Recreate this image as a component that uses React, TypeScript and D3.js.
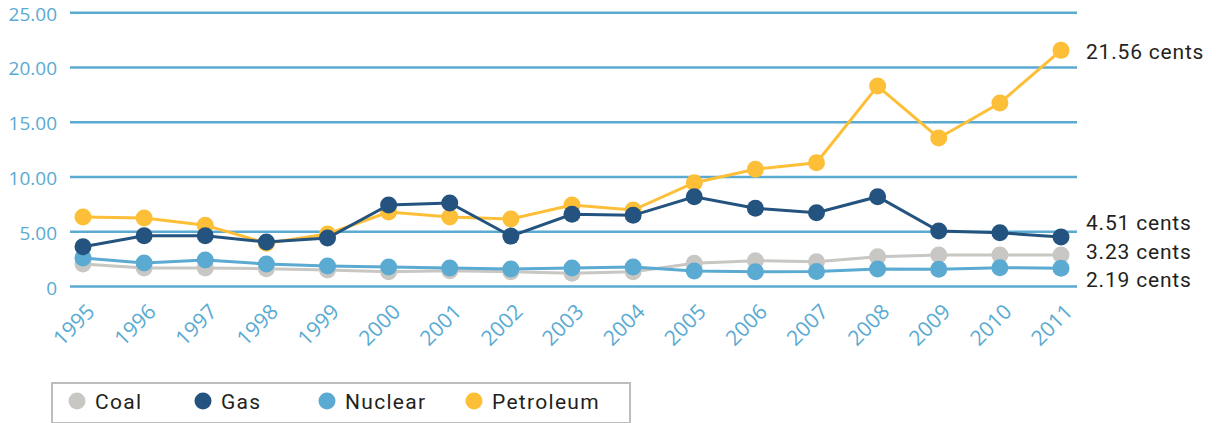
import { useEffect, useRef } from 'react';
import * as d3 from 'd3';

const years = ['1995', '1996', '1997', '1998', '1999', '2000', '2001', '2002', '2003', '2004', '2005', '2006', '2007', '2008', '2009', '2010', '2011'];
const coal = [2.05, 1.69, 1.69, 1.63, 1.5, 1.35, 1.44, 1.35, 1.2, 1.35, 2.12, 2.36, 2.27, 2.72, 2.88, 2.88, 2.88];
const gas = [3.63, 4.63, 4.63, 4.06, 4.43, 7.44, 7.63, 4.6, 6.6, 6.5, 8.2, 7.14, 6.74, 8.2, 5.07, 4.9, 4.51];
const nuclear = [2.6, 2.15, 2.42, 2.05, 1.87, 1.78, 1.69, 1.6, 1.69, 1.78, 1.42, 1.35, 1.37, 1.6, 1.57, 1.72, 1.66];
const petroleum = [6.35, 6.26, 5.6, 3.95, 4.8, 6.8, 6.35, 6.16, 7.44, 6.98, 9.48, 10.7, 11.3, 18.3, 13.56, 16.76, 21.56];
const yTicks = [0, 5, 10, 15, 20, 25];
const endLabels = ['21.56 cents', '4.51 cents', '3.23 cents', '2.19 cents'];
const seriesNames = ['Coal', 'Gas', 'Nuclear', 'Petroleum'];

const colors: Record<string, string> = {
    Coal: '#c8c7c3',
    Gas: '#23537e',
    Nuclear: '#5aaad2',
    Petroleum: '#fdbf37',
};

function App() {
    const ref = useRef<SVGSVGElement>(null);

    useEffect(() => {
        const svg = d3.select(ref.current);
        svg.selectAll('*').remove();

        const x = d3.scalePoint().domain(years).range([83, 1061]);
        const y = d3.scaleLinear().domain([0, 25]).range([286.5, 12.7]);

        // gridlines
        svg.append('g')
            .selectAll('line')
            .data(yTicks)
            .join('line')
            .attr('x1', 70)
            .attr('x2', 1077)
            .attr('y1', d => y(d))
            .attr('y2', d => y(d))
            .attr('stroke', '#5aaad2')
            .attr('stroke-width', 2.5);

        svg.append('g')
            .selectAll('text')
            .data(yTicks)
            .join('text')
            .attr('x', 57)
            .attr('y', d => y(d) + 1)
            .attr('text-anchor', 'end')
            .attr('dominant-baseline', 'central')
            .attr('font-family', 'Open Sans')
            .attr('font-size', 19)
            .attr('fill', '#5aaad2')
            .text(d => (d === 0 ? '0' : d.toFixed(2)));

        // x labels, rotated
        svg.append('g')
            .selectAll('text')
            .data(years)
            .join('text')
            .attr('transform', d => `translate(${(x(d) as number) + 13},313) rotate(-45)`)
            .attr('text-anchor', 'end')
            .attr('font-family', 'Open Sans')
            .attr('font-size', 21)
            .attr('fill', '#5aaad2')
            .text(d => d);

        const series = [
            { name: 'Coal', values: coal },
            { name: 'Nuclear', values: nuclear },
            { name: 'Petroleum', values: petroleum },
            { name: 'Gas', values: gas },
        ];

        const line = d3.line<number>()
            .x((_, i) => x(years[i]) as number)
            .y(d => y(d));

        series.forEach(s => {
            const g = svg.append('g');
            g.append('path')
                .datum(s.values)
                .attr('d', line)
                .attr('fill', 'none')
                .attr('stroke', colors[s.name])
                .attr('stroke-width', 3);
            g.selectAll('circle')
                .data(s.values)
                .join('circle')
                .attr('cx', (_, i) => x(years[i]) as number)
                .attr('cy', d => y(d))
                .attr('r', 8.5)
                .attr('fill', colors[s.name]);
        });

        // end annotations
        const labelY = [59, 230, 259, 287];
        svg.append('g')
            .selectAll('text')
            .data(endLabels)
            .join('text')
            .attr('x', 1086)
            .attr('y', (_, i) => labelY[i])
            .attr('font-family', 'Roboto')
            .attr('font-size', 21)
            .attr('letter-spacing', 0.8)
            .attr('fill', '#231f20')
            .text(d => d);

        // legend
        const legend = svg.append('g');
        legend.append('rect')
            .attr('x', 52)
            .attr('y', 383)
            .attr('width', 578)
            .attr('height', 40)
            .attr('fill', 'white')
            .attr('stroke', '#bdbdbd')
            .attr('stroke-width', 2);

        const legendX = [77, 203, 327, 474];
        const item = legend.selectAll('g')
            .data(seriesNames)
            .join('g')
            .attr('transform', (_, i) => `translate(${legendX[i]},401)`);
        item.append('circle')
            .attr('r', 8.5)
            .attr('fill', d => colors[d]);
        item.append('text')
            .attr('x', 18)
            .attr('y', 8)
            .attr('font-family', 'Roboto')
            .attr('font-size', 21)
            .attr('letter-spacing', 1.3)
            .attr('fill', '#231f20')
            .text(d => d);
    }, []);

    return (
        <svg ref={ref} width={1216} height={423} style={{ position: 'absolute', left: 0, top: 0, background: 'white' }} />
    );
}

export default App;
